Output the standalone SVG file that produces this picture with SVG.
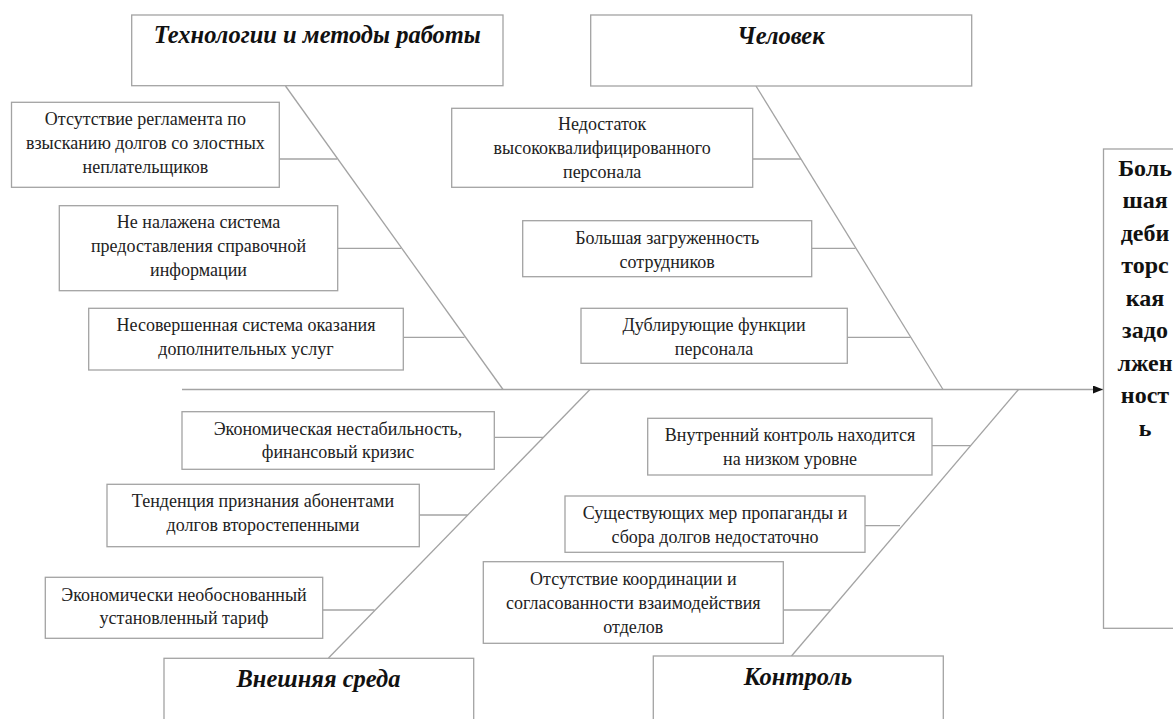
<svg xmlns="http://www.w3.org/2000/svg" width="1173" height="719" viewBox="0 0 1173 719">
<defs>
<style>
.box{fill:#fff;stroke:#a3a3a3;stroke-width:1.3}
.ln{stroke:#a3a3a3;stroke-width:1.3;fill:none}
.t{font-family:"Liberation Serif",serif;font-size:18px;fill:#222;text-anchor:middle}
.h{font-family:"Liberation Serif",serif;font-size:24.5px;font-weight:bold;font-style:italic;fill:#111;text-anchor:middle}
.r{font-family:"Liberation Serif",serif;font-size:24px;font-weight:bold;fill:#111;text-anchor:middle}
</style>
<marker id="arr" markerWidth="10" markerHeight="8" refX="10" refY="4" orient="auto" markerUnits="userSpaceOnUse">
<path d="M0,0 L10,4 L0,8 Z" fill="#111"/>
</marker>
</defs>
<rect width="1173" height="719" fill="#fff"/>
<g id="connectors">
<line class="ln" x1="182" y1="389.5" x2="1103" y2="389.5" marker-end="url(#arr)"/>
<line class="ln" x1="285.5" y1="86" x2="503" y2="389.5"/>
<line class="ln" x1="756" y1="86" x2="943" y2="389.5"/>
<line class="ln" x1="590" y1="389.5" x2="328.5" y2="658"/>
<line class="ln" x1="1018.5" y1="389.5" x2="791.5" y2="656"/>
<line class="ln" x1="279.3" y1="159" x2="337" y2="159"/>
<line class="ln" x1="337.7" y1="248.3" x2="401" y2="248.3"/>
<line class="ln" x1="403.3" y1="337.3" x2="464.5" y2="337.3"/>
<line class="ln" x1="752.7" y1="159" x2="801" y2="159"/>
<line class="ln" x1="811.7" y1="248.3" x2="855.5" y2="248.3"/>
<line class="ln" x1="847.3" y1="337.3" x2="910.5" y2="337.3"/>
<line class="ln" x1="494.3" y1="437.3" x2="543" y2="437.3"/>
<line class="ln" x1="419.3" y1="515" x2="467.5" y2="515"/>
<line class="ln" x1="322.7" y1="610" x2="374.5" y2="610"/>
<line class="ln" x1="932" y1="445.7" x2="971" y2="445.7"/>
<line class="ln" x1="865" y1="525.7" x2="900" y2="525.7"/>
<line class="ln" x1="783.3" y1="610" x2="830" y2="610"/>
</g>
<g id="head-tech">
<rect class="box" x="131.7" y="15" width="371.3" height="70.7"/>
<text class="h" x="317.3" y="43">Технологии и методы работы</text>
</g>
<g id="head-man">
<rect class="box" x="590.7" y="15" width="381" height="71"/>
<text class="h" x="781" y="43.5">Человек</text>
</g>
<g id="head-env">
<rect class="box" x="164" y="658.3" width="309.7" height="70"/>
<text class="h" x="318.5" y="687">Внешняя среда</text>
</g>
<g id="head-ctrl">
<rect class="box" x="653.3" y="656" width="290" height="72"/>
<text class="h" x="798" y="685">Контроль</text>
</g>
<g id="effect">
<rect class="box" x="1103.5" y="149" width="100" height="479.3"/>
<text class="r" x="1145" y="175.7">Боль</text>
<text class="r" x="1145" y="208.2">шая</text>
<text class="r" x="1145" y="240.7">деби</text>
<text class="r" x="1145" y="273.2">торс</text>
<text class="r" x="1145" y="305.7">кая</text>
<text class="r" x="1145" y="338.2">задо</text>
<text class="r" x="1145" y="370.7">лжен</text>
<text class="r" x="1145" y="403.2">ност</text>
<text class="r" x="1145" y="435.7">ь</text>
</g>
<g id="a1">
<rect class="box" x="11.5" y="102.3" width="267.8" height="85"/>
<text class="t" x="145.4" y="124.5">Отсутствие регламента по</text>
<text class="t" x="145.4" y="148.5">взысканию долгов со злостных</text>
<text class="t" x="145.4" y="172.5">неплательщиков</text>
</g>
<g id="a2">
<rect class="box" x="59.3" y="205.7" width="278.4" height="85"/>
<text class="t" x="198.5" y="228">Не налажена система</text>
<text class="t" x="198.5" y="252">предоставления справочной</text>
<text class="t" x="198.5" y="276">информации</text>
</g>
<g id="a3">
<rect class="box" x="88.7" y="308.3" width="314.6" height="61.7"/>
<text class="t" x="246" y="330.5">Несовершенная система оказания</text>
<text class="t" x="246" y="354.5">дополнительных услуг</text>
</g>
<g id="b1">
<rect class="box" x="451.7" y="108.3" width="301" height="79"/>
<text class="t" x="602.2" y="130">Недостаток</text>
<text class="t" x="602.2" y="154">высококвалифицированного</text>
<text class="t" x="602.2" y="178">персонала</text>
</g>
<g id="b2">
<rect class="box" x="522.7" y="220.7" width="289" height="56"/>
<text class="t" x="667.2" y="243.5">Большая загруженность</text>
<text class="t" x="667.2" y="267.5">сотрудников</text>
</g>
<g id="b3">
<rect class="box" x="581" y="308.3" width="266.3" height="55"/>
<text class="t" x="714" y="330.5">Дублирующие функции</text>
<text class="t" x="714" y="354.5">персонала</text>
</g>
<g id="c1">
<rect class="box" x="182" y="411.7" width="312.3" height="57.6"/>
<text class="t" x="338" y="434.5">Экономическая нестабильность,</text>
<text class="t" x="338" y="458">финансовый кризис</text>
</g>
<g id="c2">
<rect class="box" x="107" y="484.3" width="312.3" height="62.4"/>
<text class="t" x="263" y="507">Тенденция признания абонентами</text>
<text class="t" x="263" y="531">долгов второстепенными</text>
</g>
<g id="c3">
<rect class="box" x="45.3" y="577.3" width="277.4" height="61"/>
<text class="t" x="184" y="601">Экономически необоснованный</text>
<text class="t" x="184" y="624">установленный тариф</text>
</g>
<g id="d1">
<rect class="box" x="647.7" y="418.3" width="284.3" height="56.7"/>
<text class="t" x="790" y="441">Внутренний контроль находится</text>
<text class="t" x="790" y="465">на низком уровне</text>
</g>
<g id="d2">
<rect class="box" x="565" y="496" width="300" height="56.3"/>
<text class="t" x="715" y="518.5">Существующих мер пропаганды и</text>
<text class="t" x="715" y="542.5">сбора долгов недостаточно</text>
</g>
<g id="d3">
<rect class="box" x="483.3" y="561.7" width="300" height="81.6"/>
<text class="t" x="633.3" y="585">Отсутствие координации и</text>
<text class="t" x="633.3" y="609">согласованности взаимодействия</text>
<text class="t" x="633.3" y="633">отделов</text>
</g>
</svg>
